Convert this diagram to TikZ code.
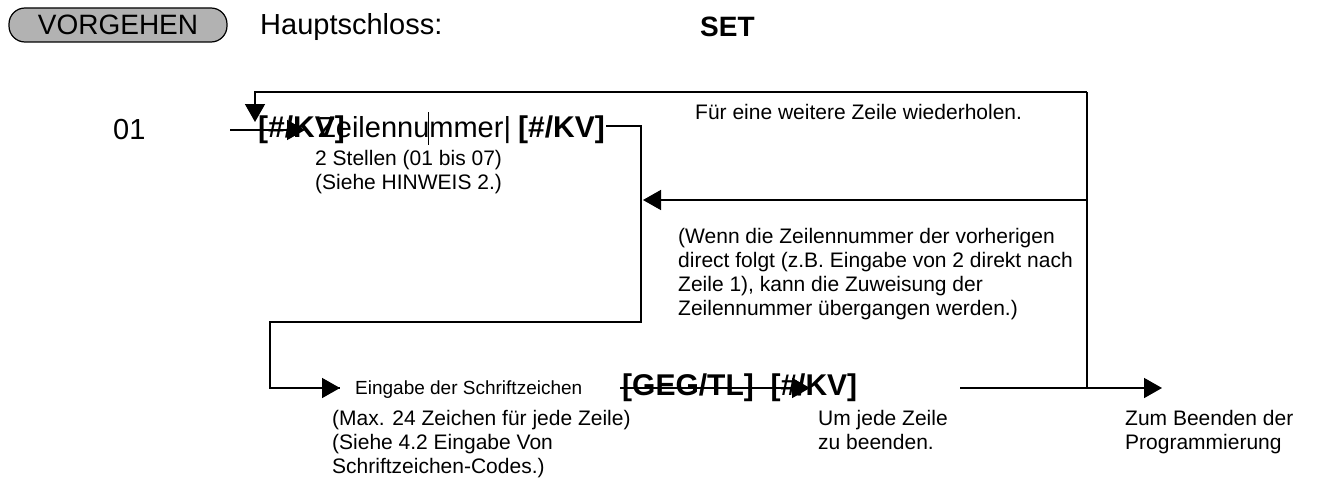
\documentclass[tikz,border=0pt]{standalone}
\usepackage{fontspec}
\setmainfont{Liberation Sans}
\usetikzlibrary{arrows.meta}
\begin{document}
\begin{tikzpicture}[x=1pt,y=-1pt,
  ln/.style={line width=1.6pt},
  arr/.style={-{Triangle[length=18pt,width=20pt]},line width=1.6pt},
  sm/.style={font=\fontsize{21}{24}\selectfont,anchor=north west,inner sep=0pt,align=left},
  bg/.style={font=\fontsize{29}{32}\selectfont,anchor=west,inner sep=0pt},
  bk/.style={font=\fontsize{30}{32}\selectfont\bfseries,anchor=west,inner sep=0pt}]
\useasboundingbox (0,0) rectangle (1340,487);
\node[draw,fill=black!30,rounded corners=16pt,minimum width=218pt,minimum height=34pt,line width=1.2pt,font=\fontsize{28}{30}\selectfont] (vg) at (118,25) {VORGEHEN};
\node[bg] (hs) at (260,27) {Hauptschloss:};
\node[font=\fontsize{28}{30}\selectfont\bfseries,anchor=west,inner sep=0pt] (set) at (700,27) {SET};
\node[bg] (n01) at (113,130) {01};
\coordinate (tl) at (255,92); \coordinate (tr) at (1087,92);
\coordinate (tdown) at (255,122);
\coordinate (ls) at (230,130); \coordinate (le) at (295,130);
\node[bk] (k1) at (258,130) {[\#/KV]};
\node[bg] (zn) at (318,130) {Zeilennummer|};
\draw[line width=1pt] (428,112)--(428,145);
\node[bk] (k2) at (518,130) {[\#/KV]};
\node[sm] (s1) at (315,150) {2 Stellen (01 bis 07)\\(Siehe HINWEIS 2.)};
\node[sm] (w) at (695,104) {Für eine weitere Zeile wiederholen.};
\node[sm] (wn) at (678,228) {(Wenn die Zeilennummer der vorherigen\\direct folgt (z.B. Eingabe von 2 direkt nach\\Zeile 1), kann die Zuweisung der\\Zeilennummer übergangen werden.)};
\draw[ln] (ls)--(le);
\draw[arr] (tr)--(tl)--(tdown);
\draw[arr] (255,130)--(305,130);
\coordinate (r1) at (606,126); \coordinate (r2) at (641,126);
\coordinate (r3) at (641,322); \coordinate (r4) at (270,322);
\coordinate (r5) at (270,388); \coordinate (r6) at (340,388);
\draw[ln] (r1)--(r2)--(r3)--(r4)--(r5)--(r6);
\draw[arr] (300,388)--(340,388);
\coordinate (bb) at (1087,388);
\coordinate (mid) at (1087,200); \coordinate (mend) at (643,200);
\draw[ln] (tr)--(bb);
\draw[arr] (mid)--(mend);
\node[sm,anchor=west,font=\fontsize{19}{22}\selectfont] (e) at (355,390) {Eingabe der Schriftzeichen};
\node[sm] (e2) at (332,410) {(Max. 24 Zeichen für jede Zeile)\\(Siehe 4.2 Eingabe Von\\Schriftzeichen-Codes.)};
\node[bk] (geg) at (622,388) {[GEG/TL]\ \ [\#/KV]};
\draw[ln] (620,388)--(780,388);
\draw[arr] (780,388)--(810,388);
\node[sm] (um) at (818,410) {Um jede Zeile\\zu beenden.};
\draw[ln] (960,388)--(bb);
\draw[arr] (bb)--(1162,388);
\node[sm] (zb) at (1125,410) {Zum Beenden der\\Programmierung};
\end{tikzpicture}
\end{document}
